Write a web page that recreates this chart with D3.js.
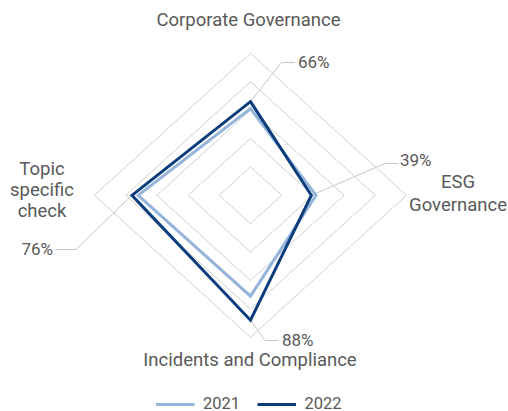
<!DOCTYPE html>
<html><head><meta charset="utf-8">
<script src="https://cdn.jsdelivr.net/npm/d3@7"></script>
<style>body{margin:0;background:#fff}svg{display:block}text{font-family:Roboto,"Open Sans",sans-serif;fill:#595959}</style>
</head><body><svg id="c" width="508" height="411"></svg>
<script>
const axes = ["Corporate Governance", "ESG Governance", "Incidents and Compliance", "Topic specific check"];
const series = ["2021", "2022"];
const values2021 = [61, 42, 71, 72];
const values2022 = [66, 39, 88, 76];
const dataLabels = [66, 39, 88, 76];
const gridLevels = [20, 40, 60, 80, 100];

const svg = d3.select("#c");
const cx = 250.5, cy = 195.3;
const rx = d3.scaleLinear().domain([0, 100]).range([0, 156]);
const ry = d3.scaleLinear().domain([0, 100]).range([0, 142]);
const ang = d3.scalePoint().domain(d3.range(axes.length)).range([0, 2*Math.PI*(axes.length-1)/axes.length]);
const pt = (i, v) => [cx + rx(v)*Math.sin(ang(i)), cy - ry(v)*Math.cos(ang(i))];
const line = d3.line().curve(d3.curveLinearClosed);

// grid
svg.append("g").selectAll("path").data(gridLevels).join("path")
  .attr("d", lv => line(axes.map((a,i) => pt(i, lv))))
  .attr("fill", "none").attr("stroke", "#d0d0d0").attr("stroke-width", 1);

// leader lines + labels
const labelPos = [
  {bend:[281.5, 62.5], end:[295, 62.5], tx:298, ty:68, anchor:"start"},
  {bend:[385, 163.5], end:[398, 163.5], tx:400, ty:166, anchor:"start"},
  {bend:[265, 340.5], end:[278, 340.5], tx:282, ty:346, anchor:"start"},
  {bend:[76, 249.5], end:[56, 249.5], tx:53, ty:254.5, anchor:"end"}
];
const lg = svg.append("g");
dataLabels.forEach((v, i) => {
  const p = pt(i, values2022[i]);
  const L = labelPos[i];
  lg.append("path").attr("d", d3.line()([p, L.bend, L.end]))
    .attr("fill", "none").attr("stroke", "#c6c6c6").attr("stroke-width", 1);
  lg.append("text").attr("x", L.tx).attr("y", L.ty).attr("text-anchor", L.anchor)
    .attr("font-size", 17).text(v + "%");
});

// series
const colors = {"2021": "#95b4dc", "2022": "#0b3c7c"};
const vals = {"2021": values2021, "2022": values2022};
series.forEach(s => {
  svg.append("path").attr("d", line(vals[s].map((v,i) => pt(i, v))))
    .attr("fill", "none").attr("stroke", colors[s]).attr("stroke-width", 3)
    .attr("stroke-linejoin", "miter");
});

// axis labels
const axisLab = [
  {x:248.5, y:26, lines:["Corporate Governance"]},
  {x:458, y:188, lines:["ESG", "Governance"]},
  {x:250, y:366, lines:["Incidents and Compliance"]},
  {x:42, y:175, lines:["Topic", "specific", "check"]}
];
axisLab.forEach((a, i) => {
  const t = svg.append("text").attr("text-anchor", "middle").attr("font-size", 18.5);
  a.lines.forEach((ln, j) => t.append("tspan").attr("x", a.x).attr("y", a.y + j*(i===3?21:23)).text(ln));
});

// legend
const legX = [156, 257.5];
series.forEach((s, i) => {
  svg.append("line").attr("x1", legX[i]).attr("x2", legX[i]+38.5).attr("y1", 404.5).attr("y2", 404.5)
    .attr("stroke", colors[s]).attr("stroke-width", 3);
  svg.append("text").attr("x", legX[i]+47).attr("y", 408.5).attr("font-size", 16.5).text(s);
});
</script></body></html>
